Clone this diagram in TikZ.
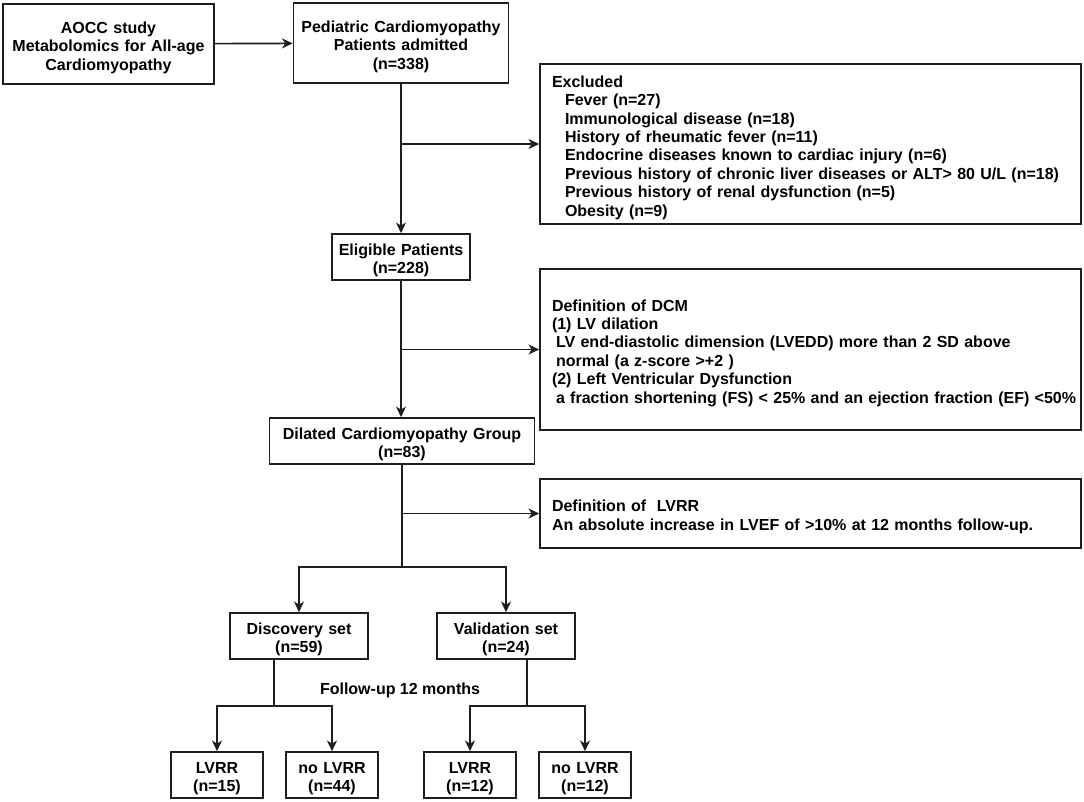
\documentclass[tikz,border=0pt]{standalone}
\usepackage{fontspec}
\setmainfont{Liberation Sans}
\usetikzlibrary{arrows.meta}
\definecolor{ln}{HTML}{1E1E1E}
\newcommand\tsr{\rule{0pt}{14pt}}
\begin{document}
\begin{tikzpicture}[x=0.75pt,y=-0.75pt,
  every node/.style={font=\fontsize{12}{13.8}\selectfont\bfseries, text=black},
  bx/.style 2 args={draw=ln, line width=1.25pt, inner sep=0pt, align=center,
     text width=#1*0.75pt, minimum height=#2*0.75pt, execute at begin node=\tsr},
  lbx/.style 2 args={draw=ln, line width=1.25pt, inner ysep=0pt, inner xsep=9pt, align=left,
     text width=#1*0.75pt-18pt, minimum height=#2*0.75pt, execute at begin node=\tsr},
  con/.style={draw=ln, line width=1.25pt},
  arr/.style={con, -{Stealth[length=8pt,width=7.5pt,inset=2.4pt]}}]
\useasboundingbox (0,0) rectangle (1084,801);
\fill[white] (0,0) rectangle (1084,801);

% main column
\node[bx={211}{80}] (aocc) at (108.5,44) {AOCC study\\Metabolomics for All-age\\Cardiomyopathy};
\node[bx={215}{80}] (ped) at (401,43) {Pediatric Cardiomyopathy\\Patients admitted\\(n=338)};
\node[bx={138}{46}] (elig) at (401,257) {Eligible Patients\\(n=228)};
\node[bx={265}{46}] (dcm) at (402,441) {Dilated Cardiomyopathy Group\\(n=83)};

% side boxes
\node[lbx={541}{160}] (excl) at (810.5,144) {Excluded\\
\hspace*{9.75pt}Fever (n=27)\\
\hspace*{9.75pt}Immunological disease (n=18)\\
\hspace*{9.75pt}History of rheumatic fever (n=11)\\
\hspace*{9.75pt}Endocrine diseases known to cardiac injury (n=6)\\
\hspace*{9.75pt}Previous history of chronic liver diseases or ALT> 80 U/L (n=18)\\
\hspace*{9.75pt}Previous history of renal dysfunction (n=5)\\
\hspace*{9.75pt}Obesity (n=9)};
\node[lbx={541}{161}] (defdcm) at (810.5,349.5) {Definition of DCM\\
(1) LV dilation\\
\hspace*{3pt}LV end-diastolic dimension (LVEDD) more than 2 SD above\\
\hspace*{3pt}normal (a z-score >+2 )\\
(2) Left Ventricular Dysfunction\\
\mbox{\hspace*{3pt}a fraction shortening (FS) < 25\% and an ejection fraction (EF) <50\%}};
\node[lbx={541}{69}] (deflvrr) at (810.5,513.5) {Definition of \ LVRR\\
An absolute increase in LVEF of >10\% at 12 months follow-up.};

% sets
\node[bx={138}{46}] (disc) at (299,636) {Discovery set\\(n=59)};
\node[bx={138}{46}] (val) at (506,636) {Validation set\\(n=24)};
\node (fu) at (400,690) {Follow-up 12 months};

\node[bx={92}{46}] (l1) at (217,775) {LVRR\\(n=15)};
\node[bx={92}{46}] (n1) at (332,775) {no LVRR\\(n=44)};
\node[bx={92}{46}] (l2) at (470,775) {LVRR\\(n=12)};
\node[bx={92}{46}] (n2) at (585,775) {no LVRR\\(n=12)};

% connectors
\draw[arr] (aocc) -- (ped);
\draw[arr] (ped) -- (elig);
\coordinate (b1) at (401,144);
\draw[arr] (b1) -- (excl);
\draw[arr] (elig) -- (dcm.north -| elig);
\coordinate (b2) at (401,349.5);
\draw[arr] (b2) -- (defdcm);
\coordinate (s0) at (402,567);
\draw[con] (dcm.south -| s0) -- (s0);
\coordinate (b3) at (402,513.5);
\draw[arr] (b3) -- (deflvrr);
\draw[arr] (s0) -| (disc.north);
\draw[arr] (s0) -| (val.north);

\coordinate (d0) at (274,706);
\draw[con] (disc.south -| d0) -- (d0);
\draw[arr] (d0) -| (l1.north);
\draw[arr] (d0) -| (n1.north);
\coordinate (v0) at (527,706);
\draw[con] (val.south -| v0) -- (v0);
\draw[arr] (v0) -| (l2.north);
\draw[arr] (v0) -| (n2.north);
\end{tikzpicture}
\end{document}
